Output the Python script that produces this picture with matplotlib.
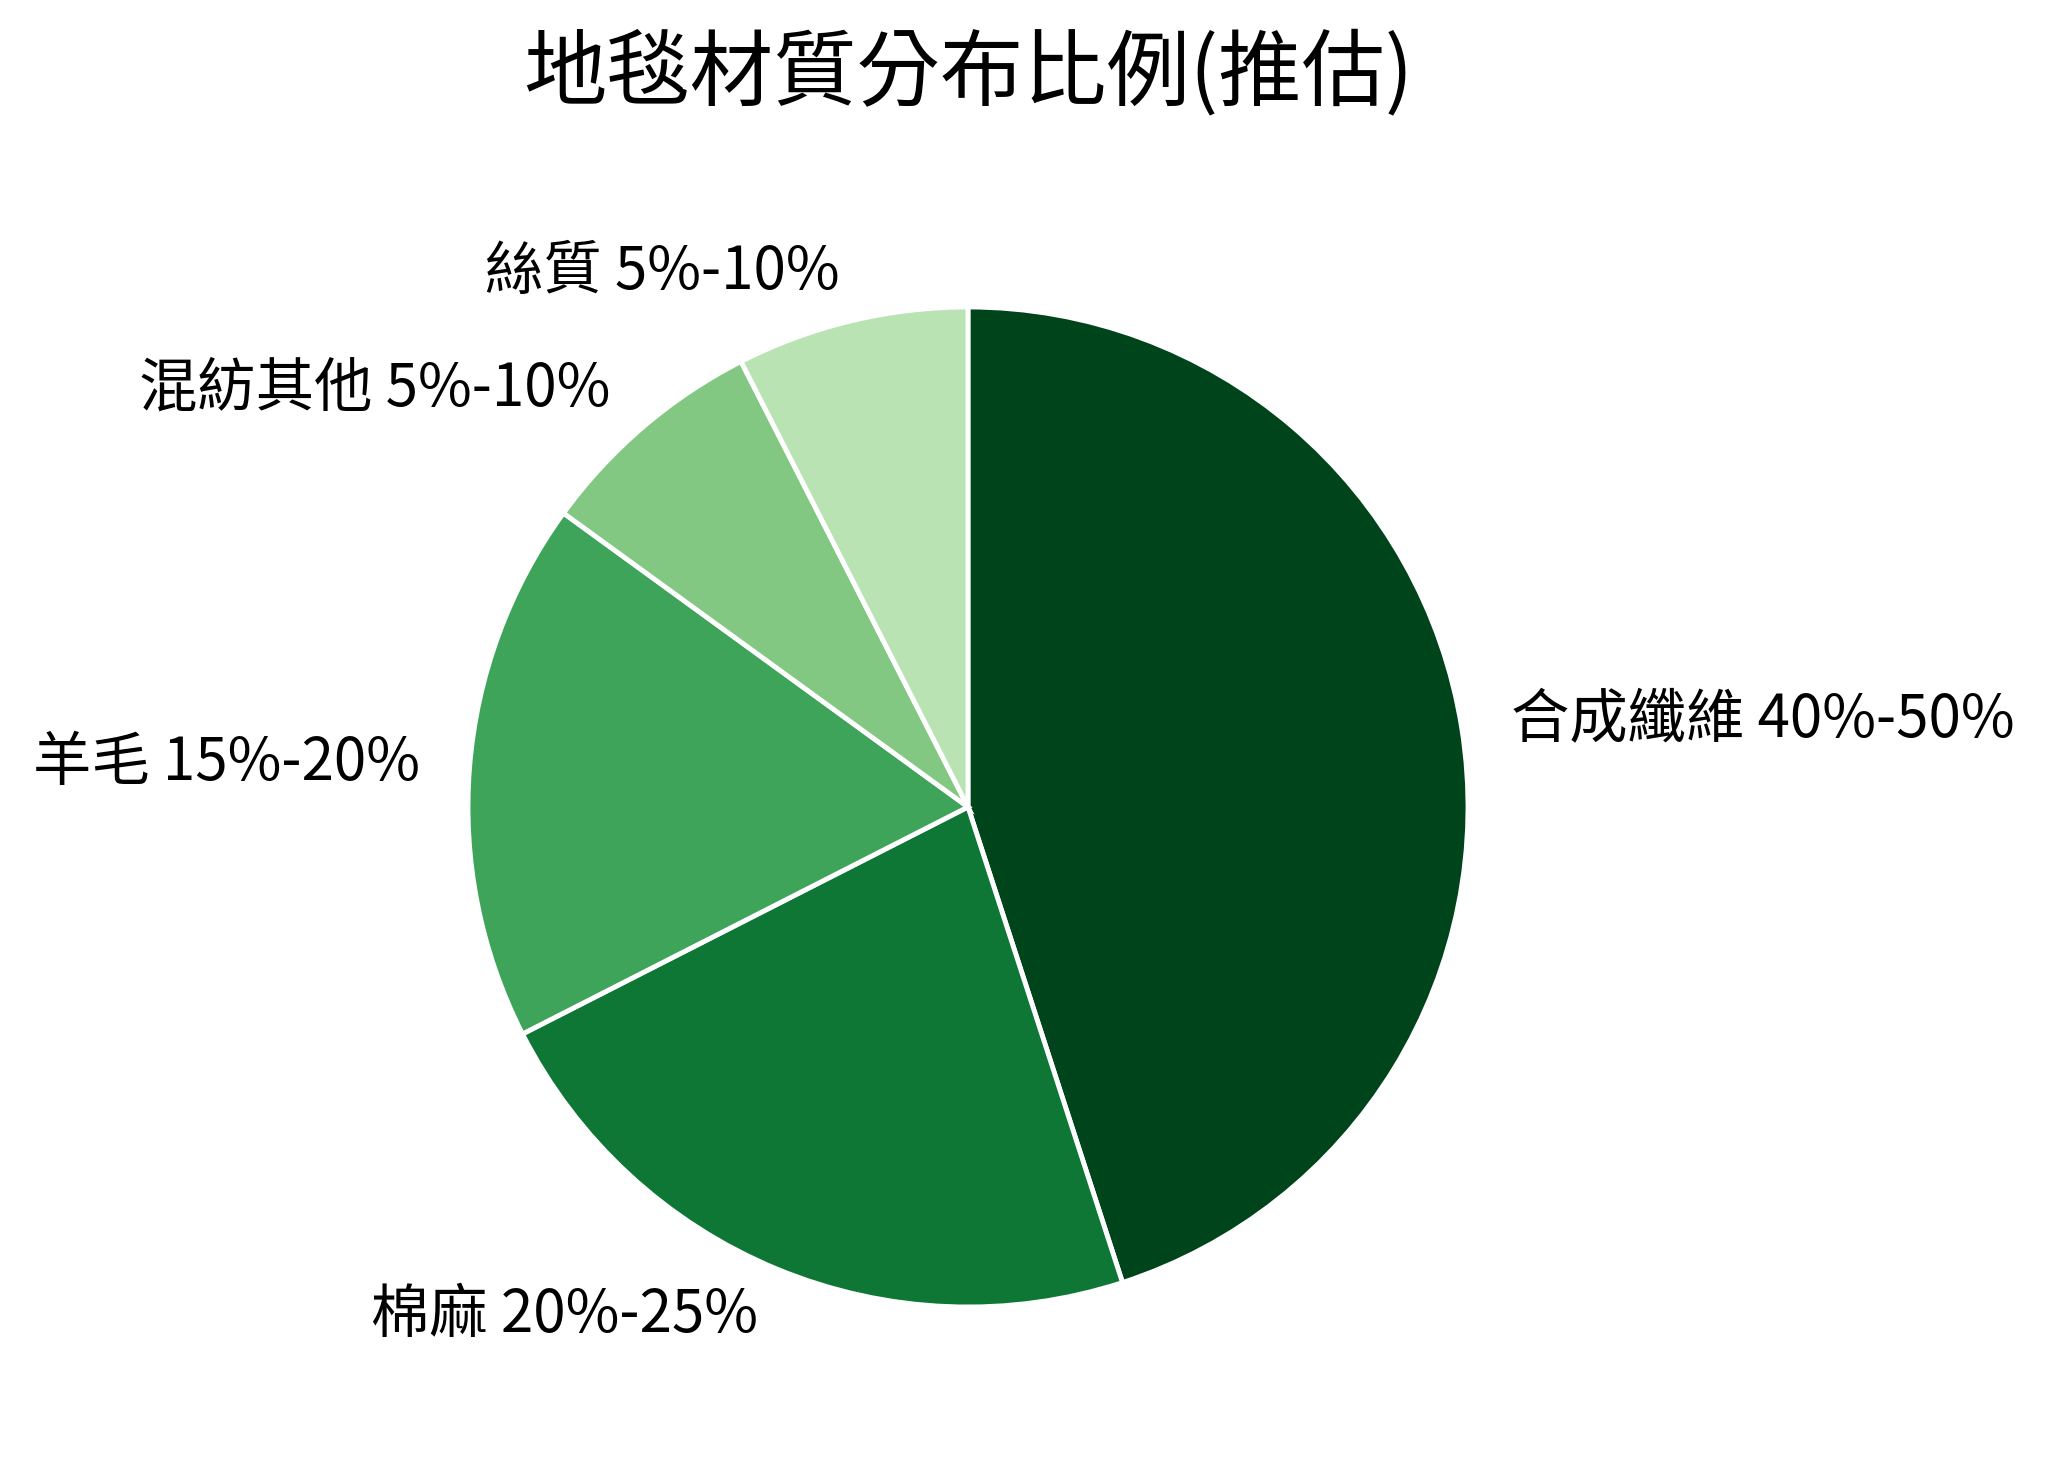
import matplotlib
matplotlib.use("Agg")
import matplotlib.pyplot as plt

plt.rcParams['font.family'] = ['Noto Sans CJK TC', 'DejaVu Sans']

title = "地毯材質分布比例(推估)"
categories = ["合成纖維", "棉麻", "羊毛", "混紡其他", "絲質"]
ranges = ["40%-50%", "20%-25%", "15%-20%", "5%-10%", "5%-10%"]
values = [45, 22.5, 17.5, 7.5, 7.5]
colors = ["#00441b", "#0e7736", "#3ea45a", "#82c882", "#b9e3b3"]

W, H = 2048, 1468
fig = plt.figure(figsize=(W / 100, H / 100), dpi=100)
cx, cy, r = 968, 807, 500
ax = fig.add_axes([(cx - r) / W, 1 - (cy + r) / H, 2 * r / W, 2 * r / H])

labels = [f"{c} {rg}" for c, rg in zip(categories, ranges)]
ax.pie(values, labels=labels, colors=colors, startangle=90, counterclock=False,
       radius=1, labeldistance=1.1,
       wedgeprops=dict(edgecolor="white", linewidth=3.5),
       textprops=dict(fontsize=42, color="black"))
ax.set_xlim(-1, 1)
ax.set_ylim(-1, 1)
ax.set_aspect('equal')
ax.axis('off')

fig.text(cx / W, 1 - 74 / H, title, ha='center', va='center', fontsize=60)

fig.savefig("out.png", dpi=100, facecolor="white")
